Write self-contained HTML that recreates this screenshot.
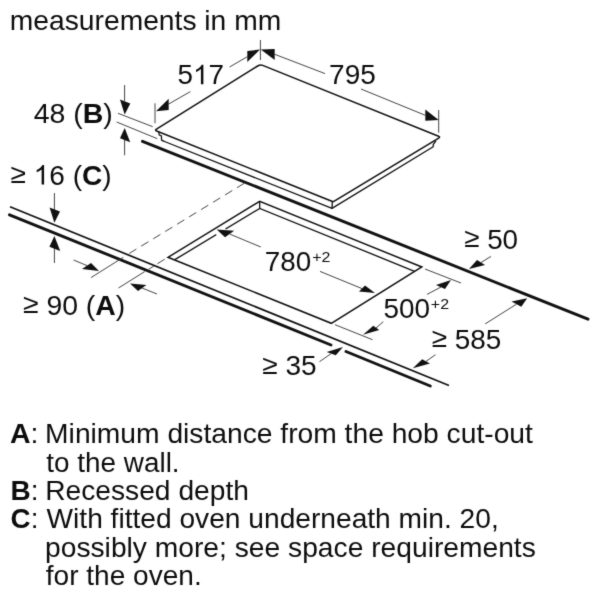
<!DOCTYPE html>
<html><head><meta charset="utf-8">
<style>
html,body{margin:0;padding:0;background:#fff;}
body{width:600px;height:600px;overflow:hidden;font-family:"Liberation Sans",sans-serif;}
svg{will-change:transform;filter:grayscale(1);display:block;position:absolute;left:0;top:0;}
text{font-family:"Liberation Sans",sans-serif;font-size:27.0px;fill:#0c0c0c;stroke:#0c0c0c;stroke-width:0px;}
.b{font-weight:bold;}
.h{visibility:hidden;}
.sup{font-size:15.5px;}
</style></head>
<body>
<svg width="600" height="600" viewBox="0 0 600 600">
<rect width="600" height="600" fill="#fff"/>
<defs><filter id="bl" x="0" y="0" width="600" height="600" filterUnits="userSpaceOnUse" color-interpolation-filters="sRGB"><feConvolveMatrix order="3" kernelMatrix="1 5 1 5 36 5 1 5 1" divisor="60" edgeMode="duplicate" preserveAlpha="false"/></filter></defs>
<g filter="url(#bl)">
<rect width="600" height="600" fill="#fff"/>
<!-- ===== hob ===== -->
<g fill="none" stroke="#111" stroke-linejoin="round" stroke-linecap="round">
  <path d="M156.64 131.02 Q154.60 130.20 156.47 129.04 L258.09 65.77 Q260.30 64.40 262.71 65.37 L438.56 136.18 Q440.60 137.00 438.72 138.14 L333.88 201.39 Q333.20 201.80 332.46 201.50 Z" stroke-width="1.55"/>
  <path d="M163.3 141 L332 208.4 L433.2 146.8 L433.3 144.4 L435.6 141.3" stroke-width="1.3"/>
  <path d="M332.3 202.4 L332 208.4" stroke-width="1.3"/>
  <path d="M158.9 132.2 L159.2 135 L161.4 135.9 L161.6 140.1 L163.3 141" stroke-width="1.3"/>
</g>

<!-- ===== wall line (thick) ===== -->
<path d="M142.5 141.3 L588 319.2" stroke="#111" stroke-width="2.9" stroke-linecap="round" fill="none"/>

<!-- ===== worktop front edge ===== -->
<path d="M10 206.8 L449 385.5" stroke="#111" stroke-width="1.7" fill="none"/>
<path d="M9.5 214.8 L331 345 M346 351.5 L430.3 386" stroke="#111" stroke-width="2.9" stroke-linecap="round" fill="none"/>

<!-- ===== cutout ===== -->
<g fill="none" stroke="#111" stroke-linejoin="miter" stroke-linecap="butt">
  <path d="M168 257.3 L259.7 201.3 L421.8 267 L331.3 323.3 Z" stroke-width="1.5"/>
  <path d="M174.8 259.7 L259.7 208.4 L414.5 271.3" stroke-width="1.35"/>
  <path d="M216.3 234.6 L225.6 229" stroke="#fff" stroke-width="3.2"/>
  <path d="M259.7 201.3 L259.7 208.5" stroke-width="1.3"/>
</g>

<!-- ===== dashed / thin helper lines ===== -->
<g fill="none" stroke="#444" stroke-width="1">
  <path d="M244.2 183.3 L128.5 253.9" stroke-dasharray="8.4 5.63"/>
  <path d="M123.3 257.3 L91 277.6"/>
  <path d="M164.7 259.2 L148.7 269.3" stroke-dasharray="8.6 4.2"/>
  <path d="M144.7 271.6 L118.5 288"/>
  <!-- 48(B) extension lines -->
  <path d="M152.7 126.7 L118 113.3"/>
  <path d="M157.3 138.7 L116.7 122"/>
  <!-- 500 extension lines -->
  <path d="M425 269 L461 283"/>
  <path d="M335 324.7 L372.5 339.7"/>
</g>

<!-- ===== dimension lines ===== -->
<g fill="none" stroke="#444" stroke-width="1">
  <!-- apex ext -->
  <path d="M260.4 40 L260.4 60"/>
  <!-- 517 -->
  <path d="M155 103.3 L155 123.3"/>
  <path d="M247.3 56.7 L229.6 67"/>
  <path d="M190.4 91.6 L168.7 104"/>
  <!-- 795 -->
  <path d="M274.7 54.3 L325 73.6"/>
  <path d="M361 89 L425.3 115.3"/>
  <path d="M438.7 110 L438.7 132.7"/>
  <!-- 48 (B) -->
  <path d="M124.6 85 L124.6 101"/>
  <path d="M124.6 140 L124.6 155.3"/>
  <!-- 16 (C) -->
  <path d="M54.4 193 L54.4 210"/>
  <path d="M54.4 247 L54.4 263"/>
  <!-- 90 (A) -->
  <path d="M73.6 260 L87 265.6"/>
  <path d="M142 288 L157 294"/>
  <!-- 780 -->
  <path d="M260.8 247 L230 234.2"/>
  <path d="M320 271.4 L362 288.6"/>
  <!-- 500 -->
  <path d="M427 294.4 L441 287"/>
  <path d="M383.3 321.7 L376 328"/>
  <!-- 50 -->
  <path d="M491 256.4 L481 262.5"/>
  <!-- 585 -->
  <path d="M485.2 323.9 L516.4 304.2"/>
  <path d="M435.5 354.7 L426 361.4"/>
  <!-- 35 -->
  <path d="M319.5 361.7 L331 353.7"/>
</g>
<g fill="#111" stroke="none">
  <!-- apex -->
  <path d="M260 49.6 L247.3 51 L247.3 62 Z"/>
  <path d="M260.8 49.6 L274.7 49 L274.7 60 Z"/>
  <!-- 795 right -->
  <path d="M438.7 120 L425.3 109.6 L425.3 120.7 Z"/>
  <!-- 517 left -->
  <path d="M156 111.3 L168.7 98.7 L168.7 110 Z"/>
  <!-- 48 B -->
  <path d="M124.7 114.6 L120 99.5 L130.3 103.4 Z"/>
  <path d="M124.7 128 L120 138.2 L130.2 142.3 Z"/>
  <!-- 16 C -->
  <path d="M54.4 222.8 L49.6 207.6 L60 211.6 Z"/>
  <path d="M54.4 236 L49.4 246.8 L60.2 251 Z"/>
  <!-- 90 A -->
  <path d="M99 271 L82 269 L91 263 Z"/>
  <path d="M130 283.6 L146.4 285 L138 291 Z"/>
  <!-- 780 -->
  <path d="M216.7 229.5 L234.2 230.8 L225 237.2 Z"/>
  <path d="M375 293 L365 285.6 L359 291.6 Z"/>
  <!-- 500 -->
  <path d="M451 280 L436 285 L445 289 Z"/>
  <path d="M363 334.7 L373.3 325.8 L379.2 330 Z"/>
  <!-- 50 -->
  <path d="M469 269 L477 260 L485 265 Z"/>
  <!-- 585 -->
  <path d="M527.2 298.2 L511.5 301.5 L521.3 306.8 Z"/>
  <path d="M412.8 368.2 L422.2 359.3 L429.9 363.5 Z"/>
  <!-- 35 -->
  <path d="M343 347 L326.7 352 L335.8 355.3 Z"/>
</g>

<!-- text -->
<g transform="translate(9.83 30.00) scale(1.0461 1)"><text id="t1">measurements in mm</text></g>
<g transform="translate(177.55 84.20) scale(1.0300 1)"><text id="t2">5<tspan class="h">1</tspan>7</text><path fill="#0c0c0c" stroke="#0c0c0c" stroke-width="0" vector-effect="non-scaling-stroke" transform="translate(15.013 0) scale(0.013184 -0.013184)" d="M763 0L583 0L583 1147Q518 1085 412.5 1023Q307 961 223 930L223 1104Q374 1175 487 1276Q600 1377 647 1472L763 1472Z"/></g>
<g transform="translate(329.06 84.40) scale(1.0379 1)"><text id="t3">795</text></g>
<g transform="translate(33.64 122.60) scale(1.0550 1)"><text id="t4">48 (<tspan class="b">B</tspan>)</text></g>
<g transform="translate(10.40 184.50) scale(1.0401 1)"><text id="t5"><tspan dy="-1.2">≥</tspan><tspan dy="1.2"> </tspan><tspan class="h">1</tspan>6 (<tspan class="b">C</tspan>)</text><path fill="#0c0c0c" stroke="#0c0c0c" stroke-width="0" vector-effect="non-scaling-stroke" transform="translate(22.333 0) scale(0.013184 -0.013184)" d="M763 0L583 0L583 1147Q518 1085 412.5 1023Q307 961 223 930L223 1104Q374 1175 487 1276Q600 1377 647 1472L763 1472Z"/></g>
<g transform="translate(22.94 314.50) scale(1.0513 1)"><text id="t6"><tspan dy="-1.2">≥</tspan><tspan dy="1.2"> </tspan>90 (<tspan class="b">A</tspan>)</text></g>
<g transform="translate(264.85 270.60) scale(1.0300 1)"><text id="t7">780</text></g>
<g transform="translate(312.24 261.50) scale(1.0300 1)"><text id="t7s"><tspan class="sup">+2</tspan></text></g>
<g transform="translate(383.55 317.80) scale(1.0325 1)"><text id="t8">500</text></g>
<g transform="translate(430.84 308.60) scale(1.0300 1)"><text id="t8s"><tspan class="sup">+2</tspan></text></g>
<g transform="translate(464.15 248.50) scale(1.0300 1)"><text id="t9"><tspan dy="-1.2">≥</tspan><tspan dy="1.2"> </tspan>50</text></g>
<g transform="translate(431.67 348.60) scale(1.0342 1)"><text id="t10"><tspan dy="-1.2">≥</tspan><tspan dy="1.2"> </tspan>585</text></g>
<g transform="translate(262.27 375.30) scale(1.0392 1)"><text id="t11"><tspan dy="-1.2">≥</tspan><tspan dy="1.2"> </tspan>35</text></g>
<g transform="translate(9.96 443.40) scale(1.0550 1)"><text id="l1a"><tspan class="b">A</tspan>:</text></g>
<g transform="translate(45.11 443.40) scale(1.0456 1)"><text id="l1">Minimum distance from the hob cut-out</text></g>
<g transform="translate(46.35 471.80) scale(1.0324 1)"><text id="l2">to the wall.</text></g>
<g transform="translate(10.43 500.00) scale(1.0381 1)"><text id="l3a"><tspan class="b">B</tspan>:</text></g>
<g transform="translate(45.20 500.00) scale(1.0446 1)"><text id="l3">Recessed depth</text></g>
<g transform="translate(10.62 528.30) scale(1.0300 1)"><text id="l4a"><tspan class="b">C</tspan>:</text></g>
<g transform="translate(46.49 528.30) scale(1.0428 1)"><text id="l4">With fitted oven underneath min. 20,</text></g>
<g transform="translate(45.02 556.50) scale(1.0451 1)"><text id="l5">possibly more; see space requirements</text></g>
<g transform="translate(45.82 584.80) scale(1.0390 1)"><text id="l6">for the oven.</text></g>
</g>
</svg>
</body></html>
